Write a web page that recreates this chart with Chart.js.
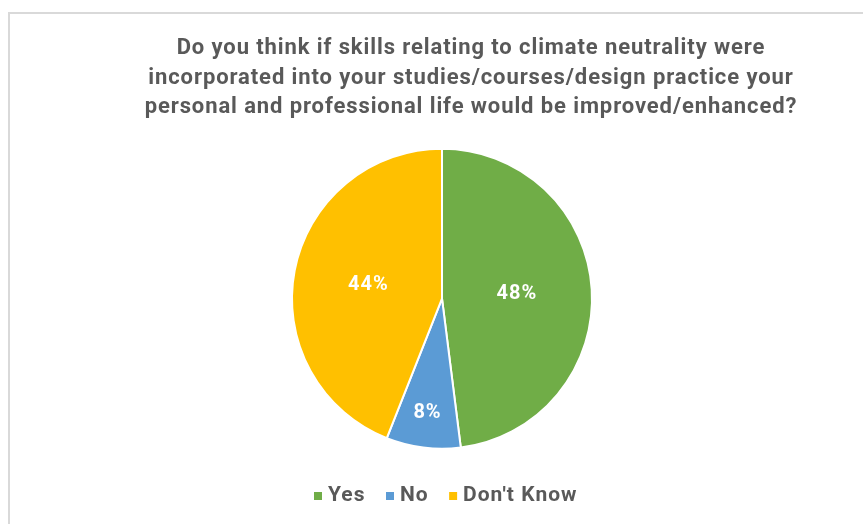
<!DOCTYPE html>
<html>
<head>
<meta charset="utf-8">
<script src="https://cdn.jsdelivr.net/npm/chart.js@4.4.1/dist/chart.umd.min.js"></script>
<style>
  html, body { margin: 0; padding: 0; background: #ffffff; }
  #wrap { position: relative; width: 863px; height: 524px; overflow: hidden; }
  #frame { position: absolute; left: 8px; top: 12px; width: 1000px; height: 700px;
           border-left: 2px solid #d9d9d9; border-top: 2px solid #d9d9d9; }
  #c { position: absolute; left: 0; top: 0; }
</style>
</head>
<body>
<div id="wrap">
  <div id="frame"></div>
  <canvas id="c" width="863" height="524"></canvas>
</div>
<script>
const titleLines = [
  "Do you think if skills relating to climate neutrality were",
  "incorporated into your studies/courses/design practice your",
  "personal and professional life would be improved/enhanced?"
];
const categories = ["Yes", "No", "Don't Know"];
const percentages = [48, 8, 44];
const sliceColors = ["#70AD47", "#5B9BD5", "#FFC000"];

const FONT = "Roboto, 'Liberation Sans', Arial, sans-serif";

// legend marker: small square placed inside a wider transparent canvas
function makeMarker(color) {
  const cv = document.createElement('canvas');
  cv.width = 16; cv.height = 8;
  const g = cv.getContext('2d');
  g.fillStyle = color;
  g.fillRect(5, 0, 8, 8);
  return cv;
}
const markers = sliceColors.map(makeMarker);

function wrapSpacing(obj, method, spacing) {
  if (!obj || obj['__wrapped_' + method]) return;
  const orig = obj[method];
  obj[method] = function (...args) {
    const ctx = this.ctx;
    const prev = ctx.letterSpacing;
    ctx.letterSpacing = spacing;
    try { return orig.apply(this, args); }
    finally { ctx.letterSpacing = prev || '0px'; }
  };
  obj['__wrapped_' + method] = true;
}

const layoutPlugin = {
  id: 'tweakBoxes',
  beforeLayout(chart) {
    wrapSpacing(chart.legend, 'fit', '1px');
    wrapSpacing(chart.legend, 'draw', '1px');
    wrapSpacing(chart.titleBlock, 'draw', '0.9px');
  },
  afterLayout(chart) {
    if (chart.titleBlock) { chart.titleBlock.left += 29; chart.titleBlock.right += 29; }
    if (chart.legend) { chart.legend.left += 5; chart.legend.right += 5; }
  }
};

const labelPlugin = {
  id: 'sliceLabels',
  afterDatasetsDraw(chart) {
    const ctx = chart.ctx;
    const meta = chart.getDatasetMeta(0);
    ctx.save();
    ctx.letterSpacing = '1px';
    ctx.fillStyle = '#ffffff';
    ctx.font = "bold 20px " + FONT;
    ctx.textAlign = 'center';
    ctx.textBaseline = 'middle';
    meta.data.forEach((arc, i) => {
      const p = arc.getProps(['x', 'y', 'startAngle', 'endAngle', 'outerRadius'], true);
      const mid = (p.startAngle + p.endAngle) / 2;
      const frac = percentages[i] < 10 ? 0.77 : 0.5;
      const r = p.outerRadius * frac;
      ctx.fillText(percentages[i] + '%', p.x + Math.cos(mid) * r, p.y + Math.sin(mid) * r);
    });
    ctx.restore();
  }
};

new Chart(document.getElementById('c'), {
  type: 'pie',
  data: {
    labels: categories,
    datasets: [{
      data: percentages,
      backgroundColor: sliceColors,
      borderColor: '#ffffff',
      borderWidth: 2,
      radius: 150
    }]
  },
  options: {
    responsive: false,
    animation: false,
    devicePixelRatio: 1,
    layout: { padding: { left: 21, right: 0, top: 18, bottom: 8 } },
    plugins: {
      title: {
        display: true,
        text: titleLines,
        color: '#595959',
        font: { family: FONT, size: 22, weight: 'bold', lineHeight: 1.34 },
        padding: { top: 16, bottom: 13 }
      },
      legend: {
        position: 'bottom',
        labels: {
          color: '#595959',
          font: { family: FONT, size: 21, weight: 'bold' },
          usePointStyle: true,
          boxWidth: 1,
          boxHeight: 8,
          padding: 23,
          generateLabels(chart) {
            const items = Chart.overrides.pie.plugins.legend.labels.generateLabels(chart);
            return items.map((it, i) => Object.assign(it, { pointStyle: markers[i], lineWidth: 0 }));
          }
        }
      },
      tooltip: { enabled: false }
    }
  },
  plugins: [layoutPlugin, labelPlugin]
});
</script>
</body>
</html>
